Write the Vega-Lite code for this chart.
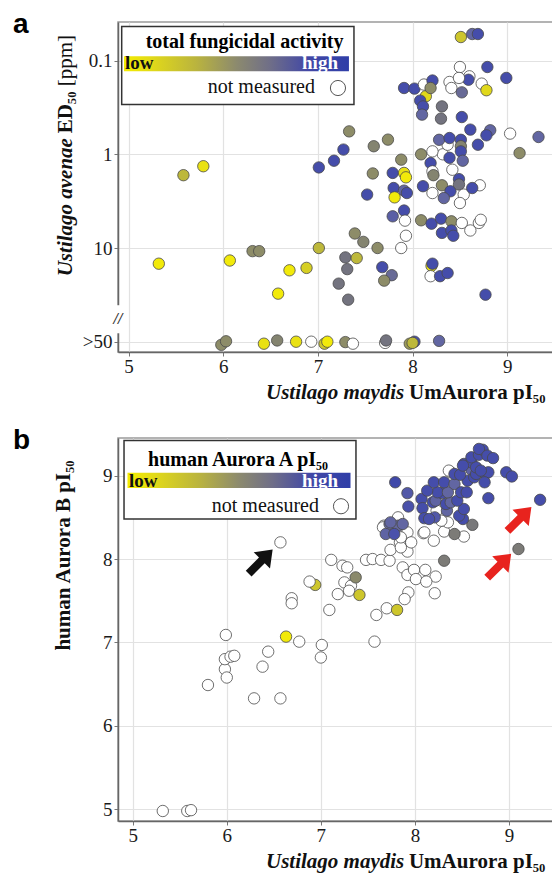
{
  "$schema": "https://vega.github.io/schema/vega-lite/v6.json",
  "padding": {"left": 12, "top": 10, "right": 0, "bottom": 0},
  "bounds": "flush",
  "spacing": 86,
  "config": {
    "view": {"stroke": "#9a9a9a", "strokeWidth": 1.5},
    "axis": {
      "labelFont": "Liberation Serif", "labelFontSize": 19, "labelColor": "#1a1a1a",
      "titleFont": "Liberation Serif", "titleFontSize": 21, "titleFontWeight": "bold", "titleColor": "#111111",
      "domainColor": "#666666", "domainWidth": 1.5, "tickColor": "#777777", "tickSize": 4,
      "gridColor": "#e2e2e2", "gridWidth": 1.2, "labelPadding": 2
    }
  },
  "datasets": {
    "pa": [
      {"x":8.51,"y":0.056,"a":0.2},{"x":8.63,"y":0.052,"a":0.7},{"x":8.69,"y":0.052,"a":0.9},
      {"x":8.79,"y":0.117,"a":0.9},{"x":8.99,"y":0.153,"a":0.9},{"x":8.50,"y":0.117,"a":null},
      {"x":8.60,"y":0.147,"a":null},{"x":8.59,"y":0.16,"a":0.9},{"x":8.39,"y":0.169,"a":null},
      {"x":8.41,"y":0.196,"a":null},{"x":8.49,"y":0.153,"a":null},{"x":8.73,"y":0.176,"a":null},
      {"x":8.78,"y":0.207,"a":0.1},{"x":8.52,"y":0.218,"a":0.65},{"x":7.91,"y":0.196,"a":0.9},
      {"x":8.02,"y":0.199,"a":0.9},{"x":8.14,"y":0.24,"a":0.1},{"x":8.12,"y":0.18,"a":null},
      {"x":8.21,"y":0.163,"a":0.9},{"x":8.19,"y":0.196,"a":0.4},{"x":8.08,"y":0.267,"a":0.9},
      {"x":8.11,"y":0.308,"a":0.9},{"x":8.10,"y":0.377,"a":0.7},{"x":8.31,"y":0.308,"a":0.55},
      {"x":8.30,"y":0.416,"a":0.55},{"x":8.52,"y":0.40,"a":0.9},{"x":8.61,"y":0.545,"a":0.9},
      {"x":8.82,"y":0.554,"a":0.7},{"x":8.78,"y":0.627,"a":0.9},{"x":9.03,"y":0.601,"a":null},
      {"x":9.33,"y":0.653,"a":0.7},{"x":7.74,"y":0.697,"a":0.4},{"x":7.59,"y":0.82,"a":0.45},
      {"x":7.33,"y":0.569,"a":0.4},{"x":7.27,"y":0.89,"a":0.9},{"x":7.17,"y":1.17,"a":0.9},
      {"x":7.01,"y":1.38,"a":0.9},{"x":5.79,"y":1.34,"a":0.05},{"x":5.58,"y":1.67,"a":0.25},
      {"x":7.88,"y":1.14,"a":0.4},{"x":7.58,"y":1.6,"a":0.4},{"x":7.79,"y":1.58,"a":0.9},
      {"x":7.91,"y":1.58,"a":0.05},{"x":7.93,"y":1.76,"a":0},{"x":7.80,"y":2.29,"a":0.9},
      {"x":7.91,"y":2.44,"a":0.7},{"x":7.94,"y":2.59,"a":0.9},{"x":7.81,"y":2.88,"a":0},
      {"x":7.52,"y":2.69,"a":0.9},{"x":7.79,"y":4.59,"a":0.75},{"x":7.91,"y":3.98,"a":0.9},
      {"x":7.92,"y":5.1,"a":null},{"x":7.93,"y":7.4,"a":null},{"x":7.63,"y":10,"a":0.4},
      {"x":7.88,"y":10,"a":null},{"x":8.32,"y":1.0,"a":null},{"x":8.21,"y":0.93,"a":null},
      {"x":8.37,"y":0.79,"a":null},{"x":8.09,"y":1.0,"a":0.4},{"x":8.28,"y":0.70,"a":0.7},
      {"x":8.39,"y":0.67,"a":0.9},{"x":8.51,"y":0.70,"a":0.9},{"x":8.51,"y":0.82,"a":0.45},
      {"x":8.51,"y":0.93,"a":0.9},{"x":8.39,"y":1.09,"a":0.9},{"x":8.53,"y":1.17,"a":0.7},
      {"x":8.19,"y":1.24,"a":0.9},{"x":8.21,"y":1.52,"a":null},{"x":8.42,"y":1.46,"a":null},
      {"x":8.22,"y":1.67,"a":0.45},{"x":8.11,"y":2.19,"a":0.9},{"x":8.21,"y":2.59,"a":null},
      {"x":8.31,"y":2.14,"a":0.4},{"x":8.40,"y":2.48,"a":0.9},{"x":8.33,"y":2.93,"a":0.7},
      {"x":8.49,"y":1.84,"a":0.9},{"x":8.49,"y":2.1,"a":0.55},{"x":8.54,"y":2.69,"a":null},
      {"x":8.50,"y":3.31,"a":null},{"x":8.71,"y":2.14,"a":null},{"x":8.63,"y":2.29,"a":0.9},
      {"x":8.69,"y":0.79,"a":0.9},{"x":9.13,"y":0.97,"a":0.4},{"x":8.09,"y":5.06,"a":0.4},
      {"x":8.20,"y":5.5,"a":0.9},{"x":8.30,"y":4.86,"a":0.9},{"x":8.41,"y":5.19,"a":0.4},
      {"x":8.31,"y":6.9,"a":0.9},{"x":8.41,"y":6.5,"a":0.9},{"x":8.43,"y":7.4,"a":0.9},
      {"x":8.52,"y":5.4,"a":null},{"x":8.61,"y":6.5,"a":null},{"x":8.70,"y":5.4,"a":null},
      {"x":8.72,"y":5.0,"a":null},{"x":7.39,"y":7.0,"a":0.4},{"x":7.48,"y":8.6,"a":0.45},
      {"x":7.01,"y":10,"a":0.25},{"x":7.29,"y":12.6,"a":0.55},{"x":7.41,"y":12.8,"a":0.25},
      {"x":7.31,"y":16.8,"a":0.55},{"x":7.22,"y":24,"a":0.55},{"x":7.32,"y":35.6,"a":0.55},
      {"x":7.68,"y":16,"a":0.9},{"x":7.78,"y":19.5,"a":0.65},{"x":7.70,"y":22.3,"a":0.4},
      {"x":6.31,"y":10.8,"a":0.4},{"x":6.38,"y":10.8,"a":0.4},{"x":6.70,"y":17.3,"a":0},
      {"x":6.88,"y":16.3,"a":0.15},{"x":6.58,"y":30.7,"a":0},{"x":8.20,"y":15.5,"a":0.05},
      {"x":8.21,"y":14.7,"a":0.9},{"x":8.19,"y":20,"a":null},{"x":8.29,"y":20,"a":0.9},
      {"x":8.37,"y":18.5,"a":0.9},{"x":8.77,"y":31.5,"a":0.9},{"x":5.32,"y":14.7,"a":0},
      {"x":6.07,"y":13.6,"a":0},
      {"x":5.98,"y":108,"a":0.4},{"x":6.03,"y":99,"a":0.4},{"x":6.43,"y":105,"a":0.05},
      {"x":6.57,"y":97,"a":0.45},{"x":6.77,"y":100,"a":0.05},{"x":6.93,"y":100,"a":null},
      {"x":7.07,"y":105,"a":0.2},{"x":7.10,"y":100,"a":0},{"x":7.29,"y":101,"a":0.4},
      {"x":7.37,"y":105,"a":null},{"x":7.71,"y":103,"a":null},{"x":7.72,"y":97,"a":0.55},
      {"x":8.02,"y":100,"a":0.9},{"x":7.97,"y":105,"a":0.35},{"x":8.00,"y":103,"a":0.25},
      {"x":8.28,"y":98,"a":0.7}
    ],
    "pb": [
      {"x":5.32,"y":4.98,"a":null},{"x":5.58,"y":4.98,"a":null},{"x":5.62,"y":4.99,"a":null},
      {"x":5.80,"y":6.49,"a":null},{"x":5.98,"y":6.68,"a":null},{"x":6.00,"y":6.58,"a":null},
      {"x":5.98,"y":6.80,"a":null},{"x":6.04,"y":6.83,"a":null},{"x":6.08,"y":6.84,"a":null},
      {"x":5.99,"y":7.09,"a":null},{"x":6.29,"y":6.33,"a":null},{"x":6.57,"y":6.33,"a":null},
      {"x":6.38,"y":6.71,"a":null},{"x":6.44,"y":6.89,"a":null},{"x":6.63,"y":7.07,"a":0},
      {"x":6.77,"y":7.01,"a":null},{"x":7.01,"y":6.97,"a":null},{"x":7.00,"y":6.82,"a":null},
      {"x":6.69,"y":7.53,"a":null},{"x":6.69,"y":7.47,"a":null},{"x":6.57,"y":8.20,"a":null},
      {"x":6.94,"y":7.69,"a":0.2},{"x":6.88,"y":7.73,"a":null},{"x":7.09,"y":7.39,"a":null},
      {"x":7.11,"y":7.99,"a":null},{"x":7.23,"y":7.92,"a":null},{"x":7.28,"y":7.90,"a":null},
      {"x":7.25,"y":7.72,"a":null},{"x":7.32,"y":7.68,"a":null},{"x":7.30,"y":7.62,"a":null},
      {"x":7.18,"y":7.58,"a":null},{"x":7.37,"y":7.78,"a":0.42},{"x":7.41,"y":7.57,"a":0.2},
      {"x":7.48,"y":7.99,"a":null},{"x":7.55,"y":8.00,"a":null},{"x":7.64,"y":7.99,"a":null},
      {"x":7.73,"y":7.98,"a":null},{"x":7.74,"y":8.11,"a":null},{"x":7.84,"y":8.20,"a":null},
      {"x":7.92,"y":8.09,"a":null},{"x":7.87,"y":7.90,"a":null},{"x":7.92,"y":7.81,"a":null},
      {"x":7.99,"y":7.87,"a":null},{"x":8.11,"y":7.87,"a":null},{"x":8.22,"y":7.79,"a":null},
      {"x":8.01,"y":7.76,"a":null},{"x":8.12,"y":7.73,"a":null},{"x":8.21,"y":7.59,"a":null},
      {"x":7.93,"y":7.60,"a":null},{"x":7.89,"y":7.52,"a":null},{"x":7.70,"y":7.41,"a":null},
      {"x":7.81,"y":7.39,"a":0.2},{"x":7.59,"y":7.33,"a":null},{"x":7.57,"y":7.01,"a":null},
      {"x":8.31,"y":7.98,"a":0.5},{"x":9.10,"y":8.12,"a":0.5},{"x":7.85,"y":8.14,"a":null},
      {"x":7.67,"y":8.40,"a":null},{"x":7.92,"y":8.32,"a":null},{"x":7.96,"y":8.20,"a":null},
      {"x":7.85,"y":8.26,"a":null},{"x":8.09,"y":8.31,"a":null},{"x":8.20,"y":8.22,"a":null},
      {"x":8.31,"y":8.33,"a":null},{"x":8.52,"y":8.27,"a":null},{"x":8.35,"y":8.44,"a":null},
      {"x":8.28,"y":8.46,"a":null},{"x":8.23,"y":8.58,"a":null},{"x":8.38,"y":9.04,"a":null},
      {"x":8.36,"y":9.06,"a":null},{"x":7.82,"y":8.50,"a":null},{"x":7.66,"y":8.38,"a":null},
      {"x":8.10,"y":8.32,"a":null},
      {"x":8.42,"y":8.30,"a":0.5},{"x":8.61,"y":8.41,"a":0.52},{"x":7.73,"y":8.42,"a":0.68},
      {"x":7.82,"y":8.40,"a":0.68},{"x":7.87,"y":8.42,"a":0.7},{"x":7.69,"y":8.30,"a":0.72},
      {"x":7.78,"y":8.30,"a":0.85},{"x":7.74,"y":8.44,"a":0.7},{"x":8.51,"y":8.48,"a":0.9},
      {"x":7.79,"y":8.92,"a":0.95},{"x":7.92,"y":8.79,"a":0.8},{"x":7.93,"y":8.63,"a":0.85},
      {"x":8.07,"y":8.72,"a":0.9},{"x":8.08,"y":8.61,"a":0.9},{"x":8.19,"y":8.68,"a":0.9},
      {"x":8.21,"y":8.50,"a":0.8},{"x":8.10,"y":8.49,"a":0.9},{"x":8.34,"y":8.58,"a":0.7},
      {"x":8.15,"y":8.48,"a":0.85},{"x":8.22,"y":8.70,"a":0.72},{"x":8.33,"y":8.66,"a":0.9},
      {"x":8.38,"y":8.68,"a":0.7},{"x":8.47,"y":8.52,"a":0.9},{"x":8.52,"y":8.60,"a":0.9},
      {"x":8.45,"y":8.70,"a":0.9},{"x":8.29,"y":8.79,"a":0.9},{"x":8.24,"y":8.80,"a":0.9},
      {"x":8.35,"y":8.80,"a":0.7},{"x":8.13,"y":8.82,"a":0.9},{"x":8.20,"y":8.92,"a":0.9},
      {"x":8.31,"y":8.92,"a":0.9},{"x":8.42,"y":8.90,"a":0.7},{"x":8.49,"y":8.80,"a":0.9},
      {"x":8.55,"y":8.80,"a":0.9},{"x":8.56,"y":8.94,"a":0.9},{"x":8.42,"y":9.02,"a":0.9},
      {"x":8.48,"y":9.01,"a":0.9},{"x":8.60,"y":9.07,"a":0.72},{"x":8.63,"y":8.98,"a":0.9},
      {"x":8.65,"y":9.02,"a":0.9},{"x":8.75,"y":9.02,"a":0.9},{"x":8.78,"y":9.04,"a":0.9},
      {"x":8.74,"y":8.92,"a":0.9},{"x":8.52,"y":9.14,"a":0.9},{"x":8.60,"y":9.16,"a":0.9},
      {"x":8.65,"y":9.10,"a":0.9},{"x":8.70,"y":9.06,"a":0.9},{"x":8.51,"y":9.12,"a":0.9},
      {"x":8.60,"y":9.22,"a":0.9},{"x":8.68,"y":9.25,"a":0.9},{"x":8.72,"y":9.31,"a":0.9},
      {"x":8.68,"y":9.32,"a":0.9},{"x":8.77,"y":9.24,"a":0.9},{"x":8.83,"y":9.21,"a":0.9},
      {"x":8.78,"y":8.73,"a":0.9},{"x":8.97,"y":9.04,"a":0.9},{"x":9.03,"y":8.99,"a":0.9},
      {"x":9.33,"y":8.71,"a":0.9}
    ]
  },
  "vconcat": [
    {
      "width": 435,
      "height": 330,
      "encoding": {
        "x": {"field": "x", "type": "quantitative",
          "scale": {"domain": [4.889, 9.483], "nice": false, "zero": false},
          "axis": {"values": [5,6,7,8,9], "title": null, "labelPadding": 1}},
        "y": {"field": "y", "type": "quantitative",
          "scale": {"type": "log", "domain": [0.0387, 128.8], "reverse": true, "nice": false},
          "axis": {"values": [0.1, 1, 10, 100], "labelExpr": "datum.value > 50 ? '>50' : datum.value < 0.5 ? '0.1' : datum.value < 5 ? '1' : '10'", "title": null}}
      },
      "layer": [
        {
          "data": {"name": "pa"},
          "mark": {"type": "point", "shape": "circle", "filled": true, "size": 130, "opacity": 1, "stroke": "#4a4a4a", "strokeWidth": 0.8, "invalid": "show"},
          "encoding": {
            "fill": {"condition": {"test": "datum.a === null", "value": "#ffffff"}, "field": "a", "type": "quantitative",
              "scale": {"domain": [0, 0.2, 0.4, 0.55, 0.7, 0.85, 1], "range": ["#f2ea0a", "#cdc62c", "#8d8c68", "#73737f", "#6266a2", "#4a51ab", "#3a44a8"], "interpolate": "rgb"},
              "legend": null}
          }
        },
        {
          "data": {"values": [{"x": 4.85, "x2": 4.95, "y": 40.8, "y2": 81.3}]},
          "mark": {"type": "rect", "fill": "#ffffff"},
          "encoding": {"x2": {"field": "x2"}, "y2": {"field": "y2"}}
        },
        {
          "data": {"values": [{"x": 4.889, "y": 57.7, "t": "//"}]},
          "mark": {"type": "text", "font": "Liberation Serif", "fontSize": 16, "fontWeight": "bold", "fontStyle": "italic", "align": "center", "baseline": "middle", "color": "#333333"},
          "encoding": {"text": {"field": "t"}}
        },
        {
          "data": {"values": [{"x": 4.403, "y": 20.04, "t": "Ustilago avenae"}]},
          "mark": {"type": "text", "font": "Liberation Serif", "fontSize": 21, "fontWeight": "bold", "fontStyle": "italic", "angle": 270, "align": "left", "baseline": "alphabetic", "color": "#111111"},
          "encoding": {"text": {"field": "t"}}
        },
        {
          "data": {"values": [{"x": 4.403, "y": 0.597, "t": "ED₅₀"}]},
          "mark": {"type": "text", "font": "Liberation Serif", "fontSize": 21, "fontWeight": "bold", "angle": 270, "align": "left", "baseline": "alphabetic", "color": "#111111"},
          "encoding": {"text": {"field": "t"}}
        },
        {
          "data": {"values": [{"x": 4.403, "y": 0.188, "t": "[ppm]"}]},
          "mark": {"type": "text", "font": "Liberation Serif", "fontSize": 21, "angle": 270, "align": "left", "baseline": "alphabetic", "color": "#111111"},
          "encoding": {"text": {"field": "t"}}
        },
        {
          "data": {"values": [{"x": 6.452, "y": 411.8, "t": "Ustilago maydis"}]},
          "mark": {"type": "text", "font": "Liberation Serif", "fontSize": 21, "fontWeight": "bold", "fontStyle": "italic", "align": "left", "baseline": "alphabetic", "color": "#111111"},
          "encoding": {"text": {"field": "t"}}
        },
        {
          "data": {"values": [{"x": 7.962, "y": 411.8, "t": "UmAurora pI₅₀"}]},
          "mark": {"type": "text", "font": "Liberation Serif", "fontSize": 21, "fontWeight": "bold", "align": "left", "baseline": "alphabetic", "color": "#111111"},
          "encoding": {"text": {"field": "t"}}
        },
        {
          "data": {"values": [{"x": 4.928, "x2": 7.381, "y": 0.0431, "y2": 0.2948}]},
          "mark": {"type": "rect", "fill": "#ffffff", "stroke": "#333333", "strokeWidth": 1.5},
          "encoding": {"x2": {"field": "x2"}, "y2": {"field": "y2"}}
        },
        {
          "data": {"values": [{"x": 4.952, "x2": 7.328, "y": 0.09, "y2": 0.13}]},
          "mark": {"type": "rect", "fill": {"gradient": "linear", "x1": 0, "y1": 0, "x2": 1, "y2": 0, "stops": [
            {"offset": 0, "color": "#f4ec00"}, {"offset": 0.12, "color": "#e2da18"}, {"offset": 0.32, "color": "#bab43e"},
            {"offset": 0.5, "color": "#8c8a6e"}, {"offset": 0.65, "color": "#6f6e88"}, {"offset": 0.82, "color": "#4248a6"}, {"offset": 1, "color": "#2f3ea8"}]}},
          "encoding": {"x2": {"field": "x2"}, "y2": {"field": "y2"}}
        },
        {
          "data": {"values": [{"x": 7.27, "y": 0.074, "t": "total fungicidal activity"}]},
          "mark": {"type": "text", "font": "Liberation Serif", "fontSize": 20, "fontWeight": "bold", "align": "right", "baseline": "alphabetic", "color": "#000000"},
          "encoding": {"text": {"field": "t"}}
        },
        {
          "data": {"values": [{"x": 4.963, "y": 0.122, "t": "low"}]},
          "mark": {"type": "text", "font": "Liberation Serif", "fontSize": 19, "fontWeight": "bold", "align": "left", "baseline": "alphabetic", "color": "#111111"},
          "encoding": {"text": {"field": "t"}}
        },
        {
          "data": {"values": [{"x": 7.212, "y": 0.122, "t": "high"}]},
          "mark": {"type": "text", "font": "Liberation Serif", "fontSize": 19, "fontWeight": "bold", "align": "right", "baseline": "alphabetic", "color": "#ffffff"},
          "encoding": {"text": {"field": "t"}}
        },
        {
          "data": {"values": [{"x": 6.969, "y": 0.2234, "t": "not measured"}]},
          "mark": {"type": "text", "font": "Liberation Serif", "fontSize": 20, "align": "right", "baseline": "alphabetic", "color": "#111111"},
          "encoding": {"text": {"field": "t"}}
        },
        {
          "data": {"values": [{"x": 7.212, "y": 0.196}]},
          "mark": {"type": "point", "shape": "circle", "filled": true, "size": 230, "fill": "#ffffff", "stroke": "#555555", "strokeWidth": 1, "opacity": 1}
        },
        {
          "data": {"values": [{"x": 3.78, "y": 0.0511, "t": "a"}]},
          "mark": {"type": "text", "font": "Liberation Sans", "fontSize": 28, "fontWeight": "bold", "align": "left", "baseline": "alphabetic", "color": "#000000"},
          "encoding": {"text": {"field": "t"}}
        }
      ]
    },
    {
      "width": 435,
      "height": 383,
      "encoding": {
        "x": {"field": "x", "type": "quantitative",
          "scale": {"domain": [4.844, 9.467], "nice": false, "zero": false},
          "axis": {"values": [5,6,7,8,9], "title": null, "labelPadding": 1}},
        "y": {"field": "y", "type": "quantitative",
          "scale": {"domain": [4.86, 9.451], "nice": false, "zero": false},
          "axis": {"values": [5,6,7,8,9], "title": "human Aurora B pI₅₀", "titlePadding": 29, "titleY": 117}}
      },
      "layer": [
        {
          "data": {"name": "pb"},
          "mark": {"type": "point", "shape": "circle", "filled": true, "size": 130, "opacity": 1, "stroke": "#4a4a4a", "strokeWidth": 0.8, "invalid": "show"},
          "encoding": {
            "fill": {"condition": {"test": "datum.a === null", "value": "#ffffff"}, "field": "a", "type": "quantitative",
              "scale": {"domain": [0, 0.2, 0.4, 0.55, 0.7, 0.85, 1], "range": ["#f2ea0a", "#cdc62c", "#8d8c68", "#73737f", "#6266a2", "#4a51ab", "#3a44a8"], "interpolate": "rgb"},
              "legend": null}
          }
        },
        {
          "data": {"values": [{"x": 6.36, "y": 7.97}]},
          "mark": {"type": "point", "shape": "M -1 -0.24 L 0.1 -0.24 L 0.1 -0.68 L 1 0 L 0.1 0.68 L 0.1 0.24 L -1 0.24 Z", "angle": -45, "size": 1150, "filled": true, "fill": "#111111", "strokeWidth": 0, "opacity": 1}
        },
        {
          "data": {"values": [{"x": 9.11, "y": 8.48}, {"x": 8.895, "y": 7.92}]},
          "mark": {"type": "point", "shape": "M -1 -0.24 L 0.1 -0.24 L 0.1 -0.68 L 1 0 L 0.1 0.68 L 0.1 0.24 L -1 0.24 Z", "angle": -45, "size": 1150, "filled": true, "fill": "#e8231e", "strokeWidth": 0, "opacity": 1}
        },
        {
          "data": {"values": [{"x": 6.417, "y": 4.2963, "t": "Ustilago maydis"}]},
          "mark": {"type": "text", "font": "Liberation Serif", "fontSize": 21, "fontWeight": "bold", "fontStyle": "italic", "align": "left", "baseline": "alphabetic", "color": "#111111"},
          "encoding": {"text": {"field": "t"}}
        },
        {
          "data": {"values": [{"x": 7.936, "y": 4.2963, "t": "UmAurora pI₅₀"}]},
          "mark": {"type": "text", "font": "Liberation Serif", "fontSize": 21, "fontWeight": "bold", "align": "left", "baseline": "alphabetic", "color": "#111111"},
          "encoding": {"text": {"field": "t"}}
        },
        {
          "data": {"values": [{"x": 4.908, "x2": 7.373, "y": 8.481, "y2": 9.421}]},
          "mark": {"type": "rect", "fill": "#ffffff", "stroke": "#333333", "strokeWidth": 1.5},
          "encoding": {"x2": {"field": "x2"}, "y2": {"field": "y2"}}
        },
        {
          "data": {"values": [{"x": 4.945, "x2": 7.315, "y": 8.853, "y2": 9.034}]},
          "mark": {"type": "rect", "fill": {"gradient": "linear", "x1": 0, "y1": 0, "x2": 1, "y2": 0, "stops": [
            {"offset": 0, "color": "#f4ec00"}, {"offset": 0.12, "color": "#e2da18"}, {"offset": 0.32, "color": "#bab43e"},
            {"offset": 0.5, "color": "#8c8a6e"}, {"offset": 0.65, "color": "#6f6e88"}, {"offset": 0.82, "color": "#4248a6"}, {"offset": 1, "color": "#2f3ea8"}]}},
          "encoding": {"x2": {"field": "x2"}, "y2": {"field": "y2"}}
        },
        {
          "data": {"values": [{"x": 6.12, "y": 9.121, "t": "human Aurora A pI₅₀"}]},
          "mark": {"type": "text", "font": "Liberation Serif", "fontSize": 20, "fontWeight": "bold", "align": "center", "baseline": "alphabetic", "color": "#000000"},
          "encoding": {"text": {"field": "t"}}
        },
        {
          "data": {"values": [{"x": 4.961, "y": 8.869, "t": "low"}]},
          "mark": {"type": "text", "font": "Liberation Serif", "fontSize": 19, "fontWeight": "bold", "align": "left", "baseline": "alphabetic", "color": "#111111"},
          "encoding": {"text": {"field": "t"}}
        },
        {
          "data": {"values": [{"x": 7.182, "y": 8.869, "t": "high"}]},
          "mark": {"type": "text", "font": "Liberation Serif", "fontSize": 19, "fontWeight": "bold", "align": "right", "baseline": "alphabetic", "color": "#ffffff"},
          "encoding": {"text": {"field": "t"}}
        },
        {
          "data": {"values": [{"x": 6.98, "y": 8.569, "t": "not measured"}]},
          "mark": {"type": "text", "font": "Liberation Serif", "fontSize": 20, "align": "right", "baseline": "alphabetic", "color": "#111111"},
          "encoding": {"text": {"field": "t"}}
        },
        {
          "data": {"values": [{"x": 7.214, "y": 8.633}]},
          "mark": {"type": "point", "shape": "circle", "filled": true, "size": 230, "fill": "#ffffff", "stroke": "#555555", "strokeWidth": 1, "opacity": 1}
        },
        {
          "data": {"values": [{"x": 3.728, "y": 9.325, "t": "b"}]},
          "mark": {"type": "text", "font": "Liberation Sans", "fontSize": 28, "fontWeight": "bold", "align": "left", "baseline": "alphabetic", "color": "#000000"},
          "encoding": {"text": {"field": "t"}}
        }
      ]
    }
  ]
}
